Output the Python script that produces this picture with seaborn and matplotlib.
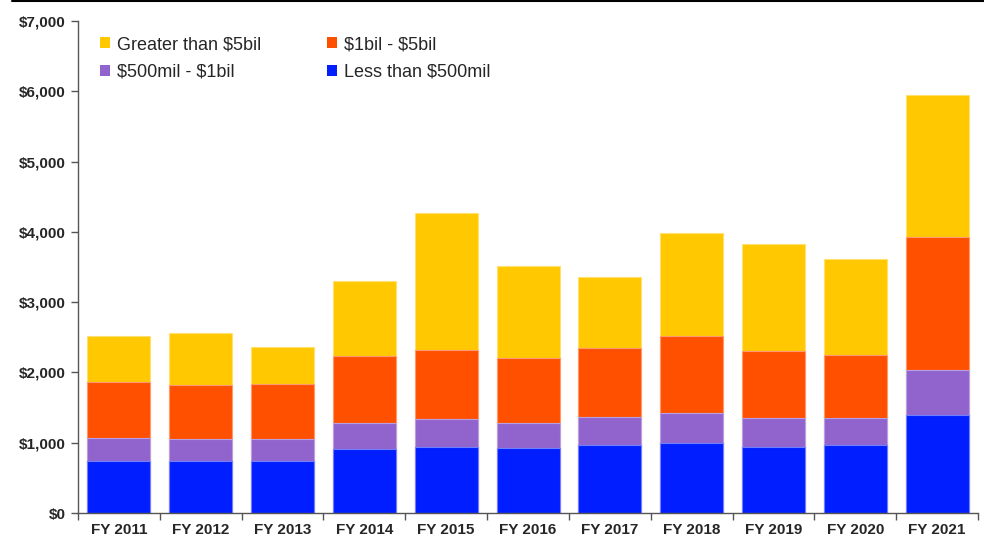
import matplotlib
matplotlib.use('Agg')

import numpy as np
import pandas as pd
import matplotlib.pyplot as plt
import seaborn as sns
from matplotlib.ticker import FuncFormatter, FixedLocator
from matplotlib.patches import Patch
from matplotlib.lines import Line2D

years = ["FY 2011", "FY 2012", "FY 2013", "FY 2014", "FY 2015", "FY 2016",
         "FY 2017", "FY 2018", "FY 2019", "FY 2020", "FY 2021"]

# values in $ millions
less_500mil = [744, 744, 735, 915, 943, 929, 972, 1000, 943, 963, 1398]
mil500_1bil = [327, 309, 322, 370, 390, 347, 389, 418, 408, 384, 632]
bil1_5bil = [792, 772, 782, 948, 990, 924, 990, 1104, 958, 896, 1900]
greater_5bil = [659, 735, 527, 1067, 1940, 1309, 1006, 1461, 1517, 1374, 2012]

series = ["Less than $500mil", "$500mil - $1bil", "$1bil - $5bil", "Greater than $5bil"]
colors = {"Less than $500mil": "#001EFF", "$500mil - $1bil": "#9063CD",
          "$1bil - $5bil": "#FF5000", "Greater than $5bil": "#FFC800"}
edges = {"Less than $500mil": "#6f7fff", "$500mil - $1bil": "#b9a0e3",
         "$1bil - $5bil": "#ff9a70", "Greater than $5bil": "#ffe070"}

df = pd.DataFrame({"year": years,
                   "Less than $500mil": less_500mil,
                   "$500mil - $1bil": mil500_1bil,
                   "$1bil - $5bil": bil1_5bil,
                   "Greater than $5bil": greater_5bil})
cum = df[series].cumsum(axis=1)
cum["year"] = df["year"]

sns.set_style("white")
plt.rcParams['font.family'] = ['Liberation Sans', 'DejaVu Sans']

fig = plt.figure(figsize=(9.84, 5.38), dpi=100)
ax = fig.add_axes([78 / 984, 25 / 538, 900 / 984, 492 / 538])

# draw tallest cumulative layer first so lower ones sit on top
for s in reversed(series):
    sns.barplot(data=cum, x="year", y=s, color=colors[s], width=0.77,
                edgecolor=edges[s], linewidth=0.8, saturation=1, ax=ax)

ax.set_xlim(-0.5, len(years) - 0.5)
ax.set_ylim(0, 7000)
ax.set_yticks(np.arange(0, 7001, 1000))
ax.yaxis.set_major_formatter(FuncFormatter(lambda v, p: "${:,.0f}".format(v)))
ax.set_xlabel("")
ax.set_ylabel("")

for sp in ["top", "right"]:
    ax.spines[sp].set_visible(False)
for sp in ["left", "bottom"]:
    ax.spines[sp].set_color("#555555")
    ax.spines[sp].set_linewidth(1.0)

ax.tick_params(axis="y", which="major", left=True, length=5, width=1,
               color="#555555", labelsize=11, pad=3.6)
ax.tick_params(axis="x", which="major", bottom=False, labelsize=11, pad=4)
ax.xaxis.set_minor_locator(FixedLocator(np.arange(-0.5, len(years), 1.0)))
ax.tick_params(axis="x", which="minor", bottom=True, length=5, width=1, color="#555555")
for lab in ax.get_xticklabels() + ax.get_yticklabels():
    lab.set_fontweight("bold")

order = ["Greater than $5bil", "$500mil - $1bil", "$1bil - $5bil", "Less than $500mil"]
handles = [Patch(facecolor=colors[s], edgecolor="none") for s in order]
labels = [s.replace("$", r"\$") for s in order]
ax.legend(handles, labels, ncol=2, frameon=False, fontsize=13,
          loc="upper left", bbox_to_anchor=(0.016, 0.984),
          handlelength=0.55, handleheight=0.55, handletextpad=0.4,
          columnspacing=3.65, labelspacing=0.6, borderaxespad=0)

fig.add_artist(Line2D([12 / 984, 1], [0.998, 0.998], color="black", linewidth=1.5,
                      transform=fig.transFigure))

fig.savefig("out.png", dpi=100)
